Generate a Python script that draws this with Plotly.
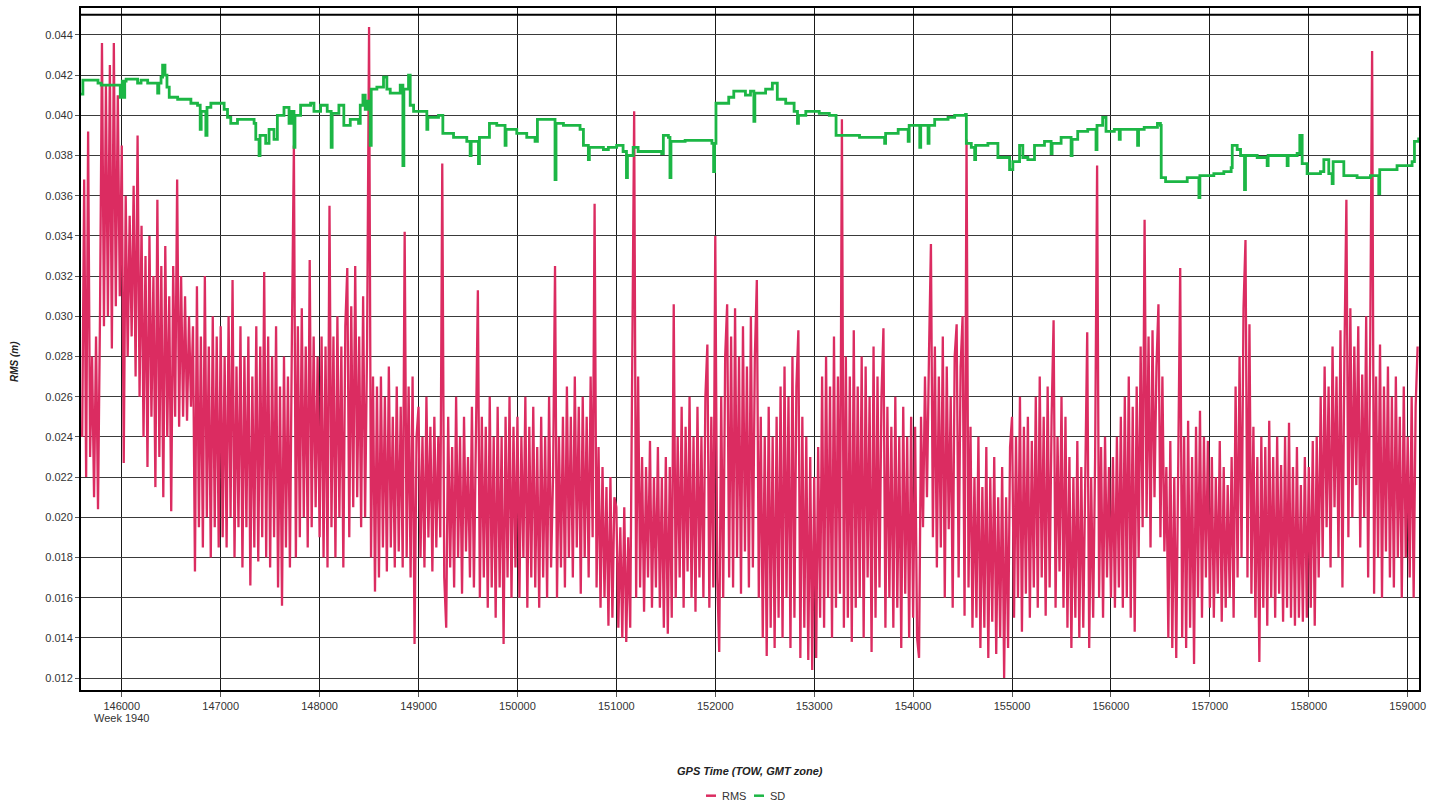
import plotly.graph_objects as go

# ---------------- data ----------------
RMS_START = 145600          # GPS TOW (s) of first RMS sample
RMS_STEP = 20               # seconds between RMS samples
# RMS values in millimetres
rms_mm = [
    # 145600-145980
    24, 36.8, 22, 39.2, 23, 28, 21, 29, 20.4, 30, 43.6, 29.5, 41.5, 30, 42.5, 28.4, 43.6, 30.5, 41, 31,
    # 146000-146980
    38.5, 22.7, 36, 28, 35, 29, 36.5, 27, 39.0, 26,
    34.5, 24, 33, 22.5, 34, 25, 32, 21.5, 35.8, 23,
    32.5, 21, 33.5, 24, 31, 20.3, 32.5, 25, 36.8, 24.5,
    32, 25, 31, 24.8, 30, 25.5, 29.5, 17.3, 31.5, 19.5,
    29, 18.5, 32, 20, 28.5, 18, 30, 19.5, 29, 18.5,
    # 147000-147980
    29.5, 19, 28, 18.5, 30, 20, 31.8, 18, 27.5, 19.5,
    29.5, 17.5, 28, 19.5, 29, 16.6, 27, 18.5, 29.5, 17.8,
    28.5, 19, 32.2, 18, 29, 17.5, 28, 19, 29.5, 16.5,
    26.5, 15.6, 28, 18.5, 27, 17.5, 29, 38.5, 18, 29.5,
    19, 30.4, 20, 28.5, 18.5, 32.8, 19.5, 29, 20.5, 28,
    # 148000-148980
    19, 29, 18, 28.5, 17.5, 35.5, 19.5, 29, 18, 30,
    20, 28.5, 17.5, 29.5, 32.4, 19, 30.5, 20.5, 32.5, 21,
    29, 19.5, 31, 20, 28.5, 44.4, 18, 27, 16.3, 26.5,
    17, 27, 18.5, 26, 17.3, 27.5, 18.5, 25, 17.5, 26.5,
    18.3, 25.5, 17.5, 34.2, 18, 26.5, 17, 27, 13.7, 24,
    # 149000-149980
    25.5, 18, 24, 17.5, 26, 19, 24.5, 17.3, 25, 18.5,
    24, 19, 37.6, 17, 14.5, 25, 17.5, 23.5, 16.5, 26,
    18, 24, 16.2, 25, 18.3, 23, 17, 25.5, 16.5, 24,
    31.3, 16, 25, 17, 24.5, 15.5, 26, 16.5, 24, 15,
    25.5, 16.5, 24, 13.7, 25, 17, 26, 16, 24.5, 17.5,
    # 150000-150980
    25, 16, 24, 18, 26, 15.5, 24.5, 17, 25.5, 16.5,
    23.5, 15.5, 25, 17, 24, 16, 26, 17.5, 22, 32.5,
    16, 24, 17.5, 25, 16.5, 26.5, 18, 25, 17, 27,
    18.5, 25.5, 16.2, 26, 18, 25, 17, 27, 19, 35.6,
    16.5, 23.5, 15.5, 22.5, 16, 21.5, 14.6, 22, 15, 21,
    # 151000-151980
    20.5, 14.5, 19.5, 14, 20.5, 13.8, 19, 14.5, 26.5, 40.2,
    16, 27, 16.5, 23, 15.3, 22.5, 17, 23.8, 15.5, 22,
    16.5, 23.5, 15.5, 22, 14.5, 23, 14.2, 22.5, 15, 30.6,
    16, 24, 17, 25.5, 15.5, 24.5, 17.3, 26, 16, 24,
    15.3, 25.5, 17, 24, 16, 26, 28.6, 15.5, 25, 16.5,
    # 152000-152980
    34, 17, 13.3, 26, 16, 28, 30.6, 17, 29, 16.5,
    30.4, 18, 28, 16.2, 29.5, 18.3, 27.5, 16.5, 30, 17.5,
    28, 31.8, 16, 25, 14, 24, 13.1, 25.5, 14.5, 24,
    13.5, 25, 15, 26.5, 14, 27.5, 16, 26, 13.5, 28,
    15, 26.5, 29.3, 13, 25, 14.5, 24, 12.9, 23, 12.4,
    # 153000-153980
    22, 13, 23.5, 15, 27, 14.5, 28, 16, 26.5, 14,
    29, 15.5, 27, 16.2, 39.8, 14.5, 28, 15, 27, 13.8,
    29.3, 15.5, 26.5, 16, 28, 14, 27.5, 17, 26, 13.3,
    28.5, 15, 27, 16.5, 26, 29.4, 14.5, 25.5, 16, 24.5,
    14.5, 26, 15.5, 24, 13.5, 25.5, 16.2, 24, 14, 25,
    # 154000-154980
    15, 24.5, 14, 13, 25, 19.5, 27, 21, 28, 33.6,
    19, 28.5, 17.5, 27, 18.5, 29, 16, 27.5, 19.4, 26,
    15.5, 28, 29.6, 17, 27.5, 30, 15.1, 38.8, 16.5, 24.5,
    14.5, 22, 15, 24, 13.5, 21.5, 14.5, 23.5, 13, 22,
    14.8, 23, 13.2, 21, 14, 22.5, 12, 21, 13.5, 23.5,
    # 155000-155980
    25, 15, 24, 16, 26, 14.3, 24.5, 16.2, 25, 15,
    23.8, 16.5, 26, 15.5, 27, 17, 25, 15.1, 26.5, 16.5,
    25, 29.8, 15.5, 24, 17.3, 26, 15.5, 25, 14.5, 23,
    13.5, 22, 15, 23.8, 14, 22.5, 14.5, 21.6, 29.2, 13.5,
    22, 15, 23, 37.5, 16, 23.5, 15, 24, 17, 22.5,
    # 156000-156980
    16, 23, 15.5, 24, 16.5, 25, 15.5, 26, 16, 27,
    15, 25.5, 14.3, 26.5, 18, 28.5, 19.5, 34.8, 20, 29,
    18.5, 29.3, 21, 27.5, 30.6, 19, 27, 18.3, 22.5, 14,
    23.8, 13.5, 22, 13, 23, 32.4, 14, 24, 13.5, 24.8,
    14.5, 23, 12.7, 24.5, 16, 25.3, 15, 24, 17, 23.8,
    # 157000-157980
    15.5, 23, 15, 22, 16.2, 23.8, 14.8, 22.5, 15.5, 21.6,
    16, 23, 15, 26.5, 17, 28, 18, 30.4, 33.8, 17,
    29.6, 16.2, 24.5, 15, 23, 12.8, 24, 15.5, 23.5, 14.6,
    24.8, 16, 23, 15, 24, 16.2, 22.6, 14.8, 24, 15.5,
    24.7, 15, 22.5, 14.6, 23.5, 15, 21.6, 14.8, 23, 15,
    # 158000-158980
    22.5, 15.5, 23.8, 14.6, 24, 17, 26, 18, 27.5, 19.5,
    26.5, 17.5, 28.5, 20.5, 27, 18, 29.3, 16.5, 28, 35.8,
    19, 30.4, 20, 28.5, 21.6, 29.5, 18.5, 27.1, 20, 30,
    17, 28, 43.2, 16.2, 27, 18, 28.6, 16, 26.5, 18.3,
    27.5, 17, 26, 16.5, 27, 18, 25, 16, 26.5, 18,
    # 159000-159100
    24, 17, 26, 16, 25.5, 28.5,
]

# SD step series: change times (GPS TOW, s) and values (mm)
sd_time = [
    145588, 145607, 145760, 145792, 145985, 146005, 146020, 146030, 146044, 146160,
    146195, 146262, 146363, 146375, 146397, 146413, 146437, 146457, 146480, 146565,
    146699, 146766, 146793, 146803, 146850, 146862, 146901, 147035, 147069, 147102,
    147170, 147338, 147355, 147388, 147398, 147455, 147489, 147539, 147573, 147640,
    147691, 147714, 147741, 147751, 147808, 147909, 147943, 148010, 148077, 148117,
    148127, 148195, 148245, 148310, 148394, 148411, 148438, 148461, 148485, 148512,
    148522, 148579, 148646, 148680, 148714, 148815, 148842, 148852, 148899, 148916,
    148950, 149084, 149094, 149202, 149246, 149354, 149488, 149522, 149532, 149606,
    149616, 149717, 149791, 149875, 149885, 149993, 150094, 150178, 150202, 150380,
    150390, 150465, 150633, 150667, 150717, 150727, 150869, 150919, 151003, 151068,
    151102, 151112, 151170, 151220, 151458, 151475, 151526, 151542, 151552, 151695,
    151966, 151983, 151993, 152007, 152136, 152187, 152305, 152356, 152390, 152400,
    152509, 152577, 152627, 152712, 152797, 152831, 152841, 152915, 153051, 153153,
    153221, 153390, 153458, 153712, 153722, 153849, 153950, 153960, 154067, 154077,
    154151, 154161, 154218, 154353, 154420, 154530, 154538, 154588, 154622, 154632,
    154756, 154857, 154975, 155008, 155076, 155109, 155160, 155227, 155328, 155395,
    155405, 155496, 155597, 155607, 155664, 155765, 155849, 155859, 155916, 155950,
    156034, 156084, 156094, 156269, 156279, 156336, 156470, 156500, 156508, 156552,
    156771, 156889, 156899, 157040, 157141, 157215, 157226, 157276, 157310, 157350,
    157360, 157478, 157579, 157589, 157781, 157791, 157882, 157909, 157933, 157983,
    158118, 158152, 158202, 158236, 158246, 158354, 158488, 158623, 158707, 158717,
    158892, 159044, 159068, 159111,
]
sd_mm = [
    41.05, 41.75, 41.6, 41.5, 40.9, 41.7, 40.9, 41.7, 41.8, 41.6,
    41.75, 41.6, 41.1, 41.6, 41.9, 42.5, 42.0, 41.4, 40.9, 40.8,
    40.6, 40.5, 39.3, 40.2, 39.0, 40.4, 40.6, 40.3, 39.9, 39.6,
    39.8, 39.6, 38.8, 38.0, 39.0, 38.6, 39.3, 38.8, 40.0, 40.4,
    39.6, 40.2, 38.4, 40.0, 40.5, 40.6, 40.2, 40.5, 40.2, 38.4,
    40.1, 40.5, 39.5, 39.8, 39.6, 40.5, 41.0, 40.3, 40.7, 38.5,
    41.3, 41.4, 41.9, 41.3, 41.1, 41.5, 37.5, 41.3, 42.0, 40.5,
    40.2, 39.3, 39.9, 40.0, 39.1, 38.9, 38.7, 38.0, 38.7, 37.6,
    38.9, 39.6, 39.5, 38.5, 39.3, 39.1, 38.9, 38.7, 39.8, 36.8,
    39.6, 39.5, 39.3, 38.5, 37.8, 38.4, 38.3, 38.4, 38.5, 38.2,
    36.9, 38.0, 38.4, 38.2, 38.1, 39.0, 38.9, 36.9, 38.7, 38.75,
    38.6, 37.2, 38.6, 40.6, 40.9, 41.2, 41.0, 41.2, 39.7, 41.1,
    41.3, 41.6, 40.8, 40.6, 40.2, 39.6, 40.0, 40.2, 40.1, 40.0,
    39.0, 39.0, 38.9, 38.6, 39.1, 39.3, 38.7, 39.5, 38.4, 39.5,
    38.6, 39.5, 39.8, 39.9, 40.0, 40.05, 38.6, 38.4, 37.8, 38.5,
    38.6, 37.9, 37.3, 37.7, 38.5, 37.9, 37.8, 38.5, 38.7, 38.1,
    38.6, 38.9, 38.0, 38.8, 39.2, 39.3, 38.3, 39.5, 39.9, 39.2,
    39.3, 38.8, 39.3, 38.5, 39.3, 39.4, 39.6, 39.5, 36.9, 36.7,
    36.9, 35.9, 37.0, 37.1, 37.2, 37.4, 38.5, 38.3, 38.0, 36.3,
    38.0, 37.9, 37.5, 38.0, 37.5, 38.0, 38.1, 39.0, 37.6, 37.1,
    37.2, 37.8, 37.1, 36.6, 37.7, 37.0, 36.9, 37.0, 36.1, 37.3,
    37.5, 37.7, 38.7, 38.9,
]

X_RANGE = [145588, 159114]
Y_RANGE = [0.011405, 0.04534]
x_ticks = list(range(146000, 159001, 1000))
week_label = "Week 1940"

# ---------------- figure ----------------
rms_t = [RMS_START + RMS_STEP * i for i in range(len(rms_mm))]
rms_m = [v / 1000.0 for v in rms_mm]
sd_m = [v / 1000.0 for v in sd_mm]

PINK = "#DB2C61"
GREEN = "#1CB645"
FONT = "Liberation Sans, Arial, sans-serif"

fig = go.Figure()
fig.add_trace(go.Scatter(x=rms_t, y=rms_m, mode="lines", name="RMS",
                         line=dict(color=PINK, width=2.3), showlegend=False))
fig.add_trace(go.Scatter(x=sd_time, y=sd_m, mode="lines", name="SD",
                         line=dict(color=GREEN, width=2.8, shape="hv"), showlegend=False))

L, R, T, B = 81, 20, 6, 115
W, H = 1439, 805
pw, ph = W - L - R, H - T - B


def px(xp):
    return (xp - L) / pw


def py(yp):
    return (H - B - yp) / ph


fig.update_layout(
    width=W, height=H,
    margin=dict(l=L, r=R, t=T, b=B, pad=0),
    paper_bgcolor="white", plot_bgcolor="white",
    font=dict(family=FONT, size=11, color="#333333"),
    showlegend=False,
)
fig.update_xaxes(
    range=X_RANGE, tickvals=x_ticks, ticktext=[str(v) for v in x_ticks],
    showgrid=True, gridcolor="#1a1a1a", gridwidth=1,
    showline=True, linecolor="black", linewidth=2, mirror=True,
    ticks="outside", ticklen=5, tickcolor="#555555",
    tickfont=dict(family=FONT, size=11, color="#333333"),
    zeroline=False,
)
fig.update_yaxes(
    range=Y_RANGE, tick0=0.012, dtick=0.002, tickformat=".3f",
    showgrid=True, gridcolor="#3a3a3a", gridwidth=1,
    showline=True, linecolor="black", linewidth=2, mirror=True,
    ticks="outside", ticklen=4, tickcolor="#555555",
    tickfont=dict(family=FONT, size=11, color="#333333"),
    zeroline=False,
)
# inner top line of the frame
fig.add_shape(type="line", xref="paper", yref="y", x0=0, x1=1, y0=0.045, y1=0.045,
              line=dict(color="black", width=2))

# week label under first tick
fig.add_annotation(x=146000, xref="x", y=py(718), yref="paper", text=week_label,
                   showarrow=False, font=dict(family=FONT, size=11, color="#333333"),
                   xanchor="center", yanchor="middle")
# axis titles
fig.add_annotation(x=px(750), xref="paper", y=py(771), yref="paper",
                   text="<b><i>GPS Time (TOW, GMT zone)</i></b>", showarrow=False,
                   font=dict(family=FONT, size=11, color="#222222"),
                   xanchor="center", yanchor="middle")
fig.add_annotation(x=px(15), xref="paper", y=py(361), yref="paper",
                   text="<b><i>RMS (m)</i></b>", showarrow=False, textangle=-90,
                   font=dict(family=FONT, size=10, color="#222222"),
                   xanchor="center", yanchor="middle")
# legend (drawn manually to match the short swatches)
for (x0, x1, col, tx, label) in [(706, 716, PINK, 720, "RMS"), (754, 764, GREEN, 768, "SD")]:
    fig.add_shape(type="line", xref="paper", yref="paper", x0=px(x0), x1=px(x1),
                  y0=py(796), y1=py(796), line=dict(color=col, width=2.5))
    fig.add_annotation(x=px(tx), xref="paper", y=py(796), yref="paper", text=label,
                       showarrow=False, xanchor="left", yanchor="middle",
                       font=dict(family=FONT, size=11, color="#333333"))

fig.write_html("out.html", config={"displayModeBar": False},
               post_script="document.body.style.margin='0';document.body.style.overflow='hidden';")
